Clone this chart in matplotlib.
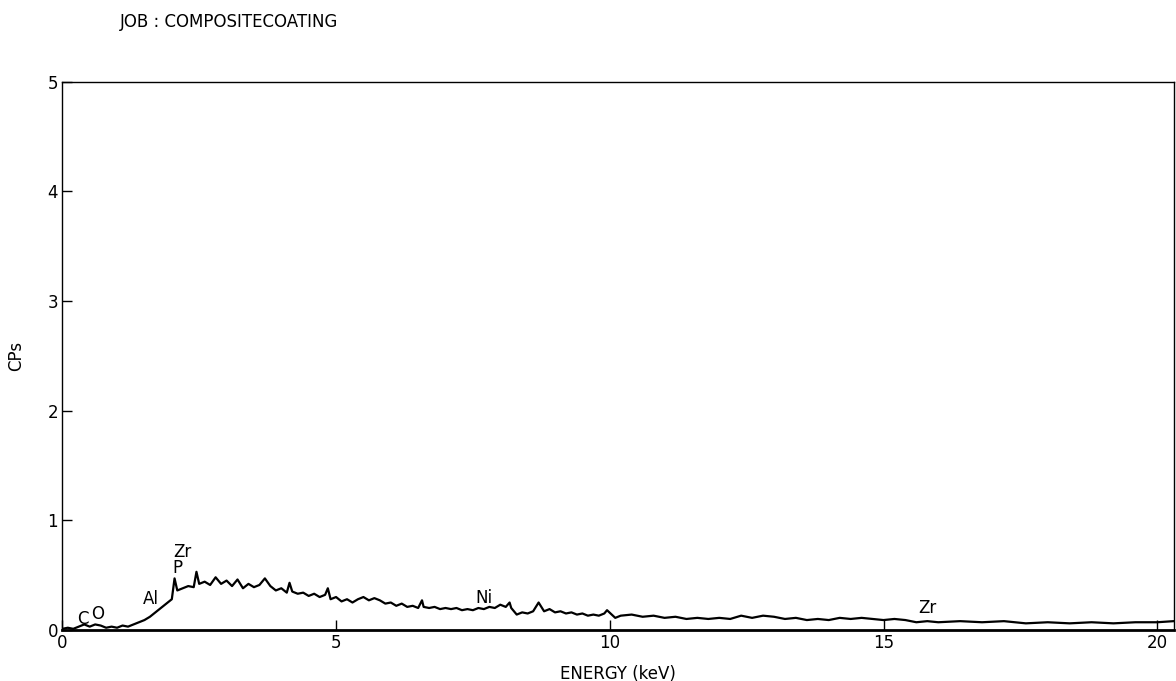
import numpy as np
import matplotlib.pyplot as plt

# EDX spectrum (energy in keV, counts per second)
energy = [0.0, 0.1, 0.2, 0.3, 0.4, 0.5, 0.6, 0.7, 0.8, 0.9,
          1.0, 1.1, 1.2, 1.3, 1.4, 1.5, 1.6, 1.7, 1.8, 1.9,
          2.0, 2.05, 2.1, 2.2, 2.3, 2.4, 2.45, 2.5, 2.6, 2.7,
          2.8, 2.9, 3.0, 3.1, 3.2, 3.3, 3.4, 3.5, 3.6, 3.7,
          3.8, 3.9, 4.0, 4.1, 4.15, 4.2, 4.3, 4.4, 4.5, 4.6,
          4.7, 4.8, 4.85, 4.9, 5.0, 5.1, 5.2, 5.3, 5.4, 5.5,
          5.6, 5.7, 5.8, 5.9, 6.0, 6.1, 6.2, 6.3, 6.4, 6.5,
          6.57, 6.6, 6.7, 6.8, 6.9, 7.0, 7.1, 7.2, 7.3, 7.4,
          7.5, 7.6, 7.7, 7.8, 7.9, 8.0, 8.1, 8.17, 8.2, 8.3,
          8.4, 8.5, 8.6, 8.7, 8.8, 8.9, 9.0, 9.1, 9.2, 9.3,
          9.4, 9.5, 9.6, 9.7, 9.8, 9.9, 9.95, 10.1, 10.2, 10.4,
          10.6, 10.8, 11.0, 11.2, 11.4, 11.6, 11.8, 12.0, 12.2, 12.4,
          12.6, 12.8, 13.0, 13.2, 13.4, 13.6, 13.8, 14.0, 14.2, 14.4,
          14.6, 14.8, 15.0, 15.2, 15.4, 15.6, 15.8, 16.0, 16.4, 16.8,
          17.2, 17.6, 18.0, 18.4, 18.8, 19.2, 19.6, 20.0, 20.3]
cps = [0.01, 0.02, 0.01, 0.03, 0.05, 0.03, 0.05, 0.04, 0.02, 0.03,
       0.02, 0.04, 0.03, 0.05, 0.07, 0.09, 0.12, 0.16, 0.20, 0.24,
       0.28, 0.47, 0.36, 0.38, 0.40, 0.39, 0.53, 0.42, 0.44, 0.41,
       0.48, 0.42, 0.45, 0.40, 0.46, 0.38, 0.42, 0.39, 0.41, 0.47,
       0.40, 0.36, 0.38, 0.34, 0.43, 0.35, 0.33, 0.34, 0.31, 0.33,
       0.30, 0.32, 0.38, 0.28, 0.30, 0.26, 0.28, 0.25, 0.28, 0.30,
       0.27, 0.29, 0.27, 0.24, 0.25, 0.22, 0.24, 0.21, 0.22, 0.20,
       0.27, 0.21, 0.20, 0.21, 0.19, 0.20, 0.19, 0.20, 0.18, 0.19,
       0.18, 0.20, 0.19, 0.21, 0.20, 0.23, 0.21, 0.25, 0.20, 0.14,
       0.16, 0.15, 0.17, 0.25, 0.17, 0.19, 0.16, 0.17, 0.15, 0.16,
       0.14, 0.15, 0.13, 0.14, 0.13, 0.15, 0.18, 0.11, 0.13, 0.14,
       0.12, 0.13, 0.11, 0.12, 0.10, 0.11, 0.10, 0.11, 0.10, 0.13,
       0.11, 0.13, 0.12, 0.10, 0.11, 0.09, 0.10, 0.09, 0.11, 0.10,
       0.11, 0.10, 0.09, 0.10, 0.09, 0.07, 0.08, 0.07, 0.08, 0.07,
       0.08, 0.06, 0.07, 0.06, 0.07, 0.06, 0.07, 0.07, 0.08]

# peak labels: element, energy, height of label
peak_names = ["C", "O", "Al", "P", "Zr", "Ni", "Zr"]
peak_x = [0.38, 0.65, 1.62, 2.1, 2.2, 7.7, 15.8]
peak_y = [0.02, 0.06, 0.20, 0.48, 0.63, 0.21, 0.12]

xticks = [0, 5, 10, 15, 20]
yticks = [0, 1, 2, 3, 4, 5]

plt.rcParams['font.family'] = ['DejaVu Sans']

fig = plt.figure(figsize=(11.76, 6.81), dpi=100)
ax = fig.add_axes([0.053, 0.075, 0.945, 0.805])

ax.plot(energy, cps, color='black', lw=1.6)

for name, px, py in zip(peak_names, peak_x, peak_y):
    ax.text(px, py, name, ha='center', va='bottom', fontsize=12)

ax.set_xlim(0, 20.3)
ax.set_ylim(0, 5)
ax.set_xticks(xticks)
ax.set_yticks(yticks)
ax.tick_params(direction='in', length=7, width=1, labelsize=12, pad=3)
ax.tick_params(axis='y', pad=3)

for side in ['top', 'right', 'left']:
    ax.spines[side].set_linewidth(1.0)
ax.spines['bottom'].set_linewidth(2.0)

ax.set_xlabel("ENERGY (keV)", fontsize=12, labelpad=9)
ax.set_ylabel("CPs", fontsize=12, labelpad=16)

fig.text(0.102, 0.967, "JOB : COMPOSITECOATING", fontsize=12, va='center', ha='left')

fig.savefig("out.png", dpi=100)
